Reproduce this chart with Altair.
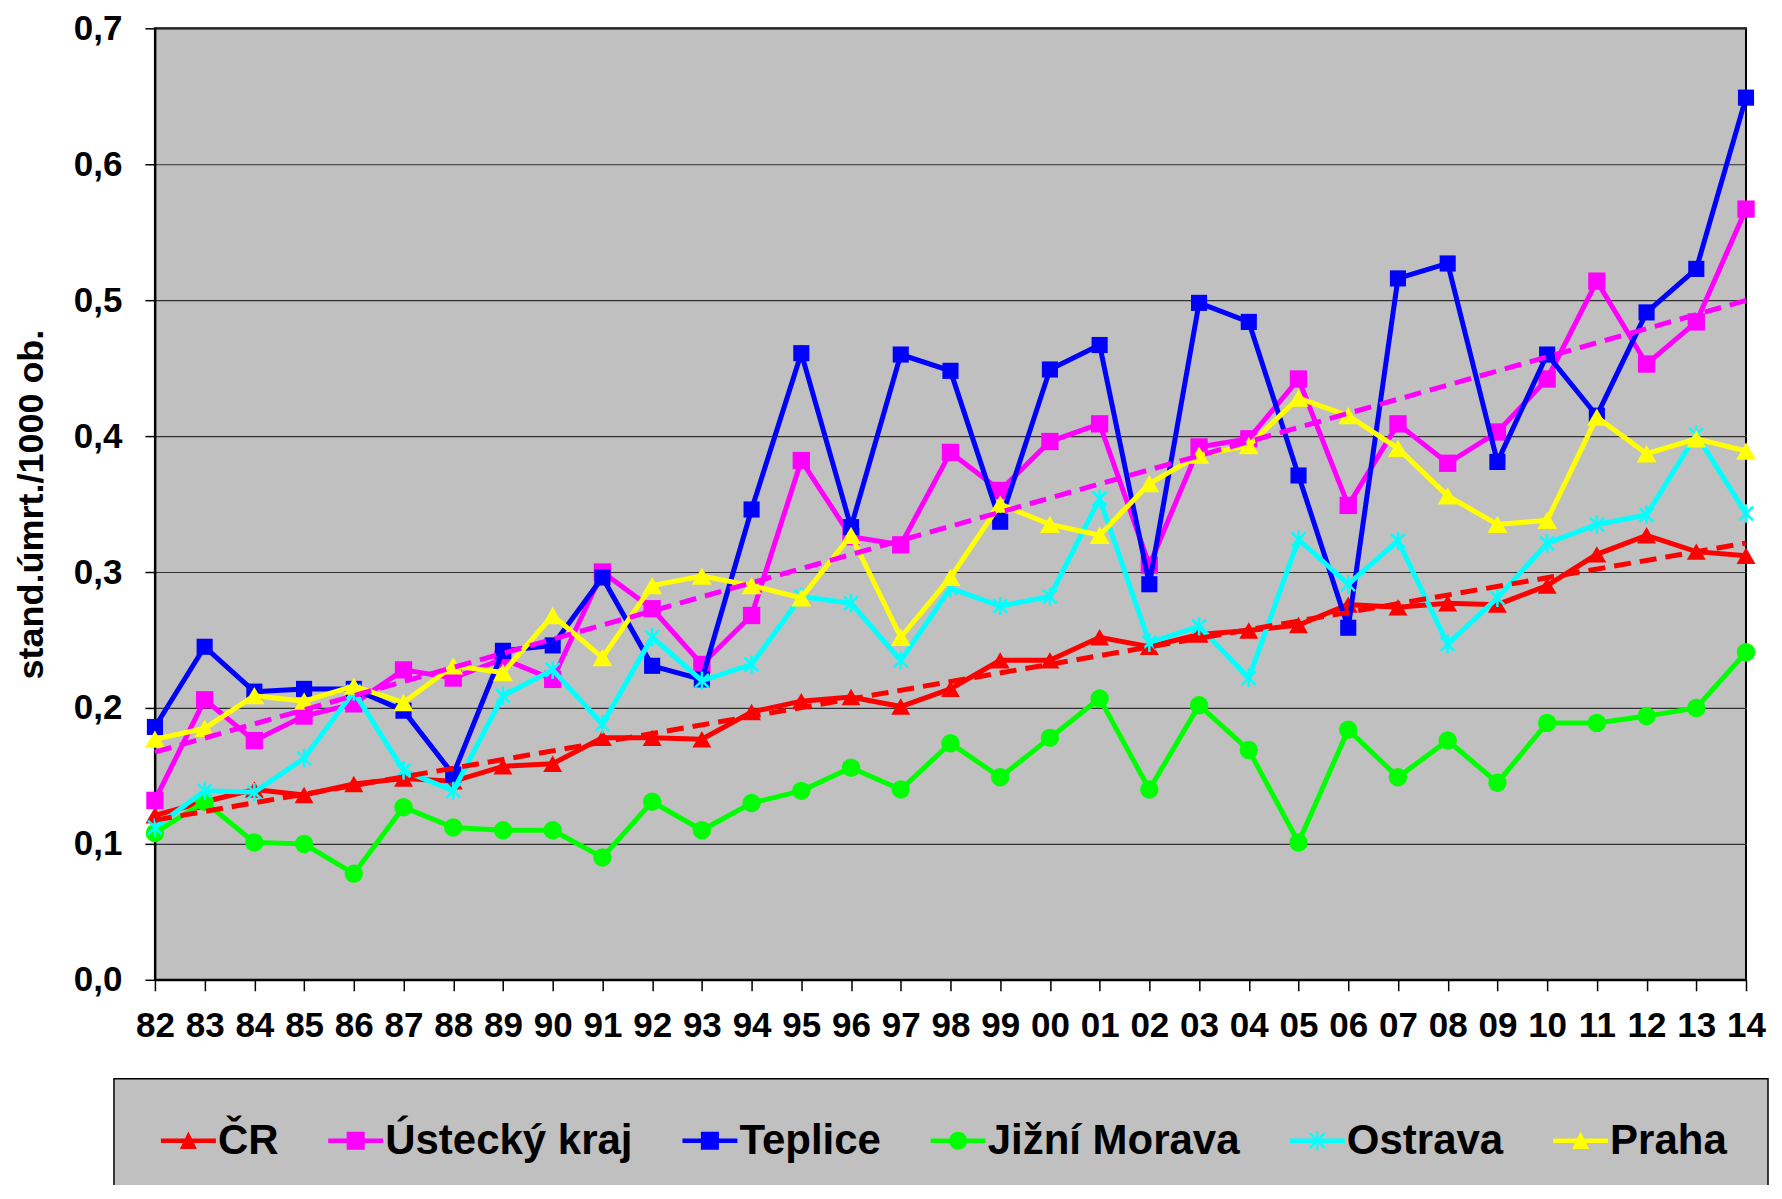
import math
import altair as alt
import pandas as pd

years = list(range(1982, 2015))
series_names = ["ČR", "Ústecký kraj", "Teplice", "Jižní Morava", "Ostrava", "Praha"]
colors = ["#FF0000", "#FF00FF", "#0000FF", "#00FF00", "#00FFFF", "#FFFF00"]

cr = [0.121, 0.131, 0.140, 0.136, 0.144, 0.148, 0.146, 0.157, 0.159, 0.178, 0.178,
      0.177, 0.197, 0.205, 0.208, 0.201, 0.214, 0.235, 0.235, 0.252, 0.245, 0.254,
      0.257, 0.261, 0.276, 0.274, 0.277, 0.276, 0.290, 0.313, 0.327, 0.315, 0.312]
ustecky = [0.132, 0.206, 0.176, 0.194, 0.203, 0.228, 0.222, 0.236, 0.221, 0.300, 0.273,
           0.232, 0.268, 0.382, 0.326, 0.320, 0.388, 0.360, 0.396, 0.409, 0.305, 0.392,
           0.398, 0.442, 0.349, 0.409, 0.380, 0.403, 0.442, 0.514, 0.453, 0.484, 0.567]
teplice = [0.186, 0.245, 0.212, 0.214, 0.214, 0.198, 0.151, 0.242, 0.246, 0.296, 0.231,
           0.221, 0.346, 0.461, 0.333, 0.460, 0.448, 0.337, 0.449, 0.467, 0.291, 0.498,
           0.484, 0.371, 0.259, 0.516, 0.527, 0.381, 0.460, 0.415, 0.491, 0.523, 0.649]
jizni_morava = [0.108, 0.131, 0.101, 0.100, 0.078, 0.127, 0.112, 0.110, 0.110, 0.090, 0.131,
                0.110, 0.130, 0.139, 0.156, 0.140, 0.174, 0.149, 0.178, 0.207, 0.140, 0.202,
                0.169, 0.101, 0.184, 0.149, 0.176, 0.145, 0.189, 0.189, 0.194, 0.200, 0.241]
ostrava = [0.112, 0.139, 0.138, 0.163, 0.212, 0.154, 0.139, 0.209, 0.228, 0.188, 0.252,
           0.220, 0.232, 0.282, 0.277, 0.235, 0.288, 0.275, 0.282, 0.354, 0.248, 0.260,
           0.222, 0.324, 0.291, 0.323, 0.247, 0.281, 0.321, 0.335, 0.342, 0.401, 0.343]
praha = [0.177, 0.185, 0.209, 0.205, 0.216, 0.204, 0.231, 0.226, 0.268, 0.237, 0.290,
         0.297, 0.290, 0.281, 0.327, 0.252, 0.296, 0.350, 0.335, 0.327, 0.365, 0.386,
         0.393, 0.428, 0.415, 0.391, 0.356, 0.335, 0.338, 0.414, 0.387, 0.398, 0.389]

y_ticks = [0.0, 0.1, 0.2, 0.3, 0.4, 0.5, 0.6, 0.7]
trend_series = ["ČR", "Ústecký kraj"]

rows = []
for name, vals in zip(series_names, [cr, ustecky, teplice, jizni_morava, ostrava, praha]):
    for yr, v in zip(years, vals):
        rows.append({"year": yr, "value": v, "series": name})
df = pd.DataFrame(rows)

FONT = "Liberation Sans"
color_scale = alt.Scale(domain=series_names, range=colors)
color_of = dict(zip(series_names, colors))

x_enc = alt.X(
    "year:Q",
    scale=alt.Scale(domain=[1982, 2014], nice=False, zero=False),
    axis=alt.Axis(values=years, labelExpr="substring(toString(datum.value), 2)",
                  title=None, grid=False, tickSize=11, labelPadding=18, labelFlush=False),
)
y_enc = alt.Y(
    "value:Q",
    scale=alt.Scale(domain=[0, 0.7], nice=False),
    axis=alt.Axis(values=y_ticks, labelExpr="replace(format(datum.value, '.1f'), '.', ',')",
                  title="stand.úmrt./1000 ob.", grid=True, tickSize=10,
                  labelPadding=23, titlePadding=23),
)

base = alt.Chart(df)

ast_marker = "M0,-1V1M-0.75,-0.75L0.75,0.75M-0.75,0.75L0.75,-0.75"
marker_specs = {
    "ČR": dict(filled=True, shape="triangle-up", size=360),
    "Ústecký kraj": dict(filled=True, shape="square", size=300),
    "Teplice": dict(filled=True, shape="square", size=260),
    "Jižní Morava": dict(filled=True, shape="circle", size=340),
    "Ostrava": dict(filled=False, shape=ast_marker, size=340, strokeWidth=2.5),
    "Praha": dict(filled=True, shape="triangle-up", size=400),
}

layers = []
for name in series_names:
    sub = base.transform_filter(alt.datum.series == name)
    layers.append(sub.mark_line(strokeWidth=5, color=color_of[name]).encode(x=x_enc, y=y_enc))
    layers.append(sub.mark_point(opacity=1, color=color_of[name], **marker_specs[name])
                  .encode(x=x_enc, y=y_enc))

for name in trend_series:
    layers.append(
        base.transform_filter(alt.datum.series == name)
        .transform_regression("year", "value", extent=[1982, 2014])
        .mark_line(strokeDash=[17, 9], strokeWidth=5, color=color_of[name])
        .encode(x=x_enc, y=y_enc)
    )


# legend symbols: a line with a marker, as filled shapes (unit = half the symbol box)
def bar(x1, y1, x2, y2, w):
    dx, dy = x2 - x1, y2 - y1
    L = math.hypot(dx, dy)
    px, py = -dy / L * w / 2, dx / L * w / 2
    pts = [(x1 - px, y1 - py), (x2 - px, y2 - py), (x2 + px, y2 + py), (x1 + px, y1 + py)]
    return "M" + "L".join(f"{a:.3f},{b:.3f}" for a, b in pts) + "Z"


cx = 0.595
line_path = "M-0.714,-0.107H1.905V0.107H-0.714Z"
tri = f"M{cx:.3f},-0.44L{cx + 0.405:.3f},0.40L{cx - 0.405:.3f},0.40Z"
sq = f"M{cx - 0.43:.3f},-0.43H{cx + 0.43:.3f}V0.43H{cx - 0.43:.3f}Z"
circ = (f"M{cx + 0.43:.3f},0A0.43,0.43 0 1,1 {cx - 0.43:.3f},0"
        f"A0.43,0.43 0 1,1 {cx + 0.43:.3f},0Z")
ast = (bar(cx, -0.46, cx, 0.46, 0.1) + bar(cx - 0.36, -0.36, cx + 0.36, 0.36, 0.1)
       + bar(cx - 0.36, 0.36, cx + 0.36, -0.36, 0.1))
legend_shapes = [line_path + tri, line_path + sq, line_path + sq, line_path + circ,
                 line_path + ast, line_path + tri]

leg = alt.Legend(
    title=None, orient="none", legendX=-41, legendY=1051, direction="horizontal",
    columns=6, labelFont=FONT, labelFontWeight="bold", labelFontSize=42,
    labelColor="black", symbolSize=1764, symbolStrokeWidth=0, columnPadding=43.4,
    labelOffset=21, padding=41, fillColor="#C0C0C0", strokeColor="black",
    labelLimit=500, symbolOpacity=1,
)
legend_layer = (
    base.mark_point(filled=True, opacity=0)
    .encode(
        x=x_enc, y=y_enc,
        color=alt.Color("series:N", scale=color_scale, legend=leg),
        shape=alt.Shape("series:N", scale=alt.Scale(domain=series_names, range=legend_shapes),
                        legend=leg),
    )
)
layers.append(legend_layer)

chart = (
    alt.layer(*layers)
    .properties(width=1592, height=952, autosize=alt.AutoSizeParams(type="none"),
                padding={"left": 147, "top": 20, "right": 28, "bottom": 205})
    .configure_view(fill="#C0C0C0", stroke="black", strokeWidth=2)
    .configure_axis(labelFont=FONT, labelFontWeight="bold", labelFontSize=35,
                    labelColor="black", titleFont=FONT, titleFontWeight="bold",
                    titleFontSize=36, titleColor="black", domainColor="black",
                    domainWidth=2, tickColor="black", tickWidth=1.5,
                    gridColor="#303030", gridWidth=1.2)
    .configure_legend(strokeWidth=1.5)
)

chart.save("out.html", embed_options={"renderer": "svg", "actions": False})
